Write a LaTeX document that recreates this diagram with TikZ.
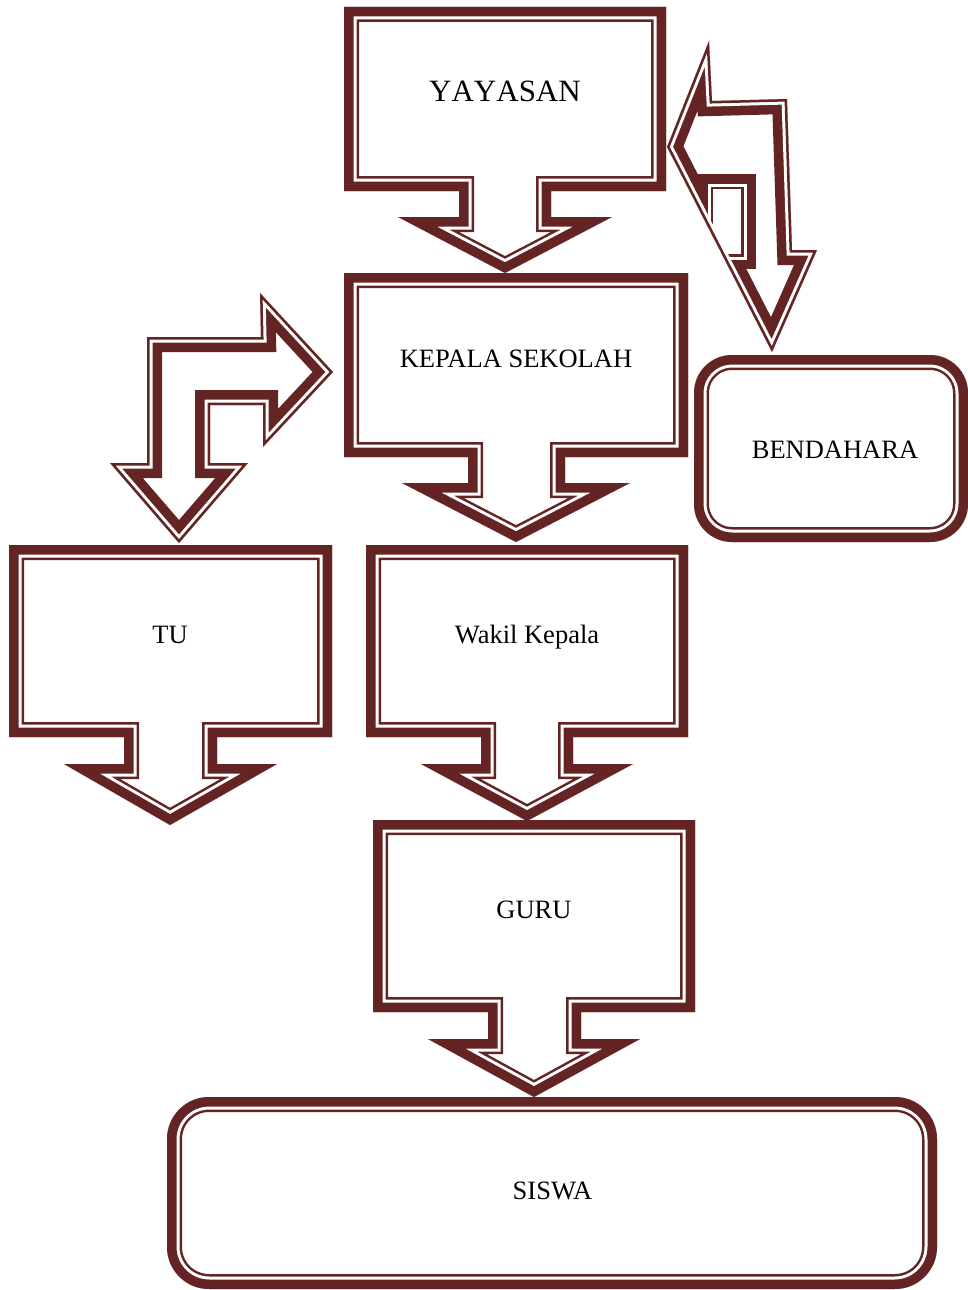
\documentclass[tikz,border=0pt]{standalone}
\usepackage{fontspec}
\setmainfont{Liberation Serif}
\definecolor{maroonline}{RGB}{99,36,35}
\tikzset{
  lbl/.style={anchor=base, text=black, inner sep=0pt, font=\fontsize{26.5}{30}\selectfont},
  biglbl/.style={anchor=base, text=black, inner sep=0pt, font=\fontsize{31}{34}\selectfont\addfontfeature{Kerning=Off}}
}
% thick line outside, thin line inside
\newcommand{\boxshape}[2]{%
  \fill[white,#1] #2;
  \begin{scope}
    \clip[#1] #2;
    \draw[maroonline,line width=30pt,#1] #2;
    \draw[white,line width=25pt,#1] #2;
    \draw[maroonline,line width=19pt,#1] #2;
  \end{scope}}
% thin line outside, thick line inside
\newcommand{\bentshape}[1]{%
  \fill[white] #1;
  \begin{scope}
    \clip #1;
    \draw[maroonline,line width=30pt] #1;
    \draw[white,line width=11pt] #1;
    \draw[maroonline,line width=5pt] #1;
  \end{scope}}
\begin{document}
\begin{tikzpicture}[x=1pt,y=-1pt,line join=miter,miter limit=30]
\useasboundingbox[fill=white] (0,0) rectangle (968,1290);

% right bent arrow (YAYASAN -> BENDAHARA)
\fill[white] (667,147) -- (709,41) -- (712,101) -- (787,99) -- (792,250) -- (817,250) -- (772,352) -- cycle;
\begin{scope}
  \clip (667,147) -- (709,41) -- (712,101) -- (787,99) -- (792,250) -- (817,250) -- (772,352) -- cycle;
  \draw[maroonline,line width=30pt] (667,147) -- (709,41) -- (712,101) -- (787,99) -- (792,250) -- (817,250) -- (772,352) -- cycle;
  \draw[maroonline,line width=30pt] (713,189) rectangle (741,254);
  \draw[white,line width=11pt] (713,189) rectangle (741,254);
  \draw[maroonline,line width=5pt] (713,189) rectangle (741,254);
  \fill[white] (713,189) rectangle (741,254);
  \draw[white,line width=11pt] (667,147) -- (709,41) -- (712,101) -- (787,99) -- (792,250) -- (817,250) -- (772,352) -- cycle;
  \draw[maroonline,line width=5pt] (667,147) -- (709,41) -- (712,101) -- (787,99) -- (792,250) -- (817,250) -- (772,352) -- cycle;
\end{scope}

% left bent arrow (TU <-> KEPALA SEKOLAH)
\bentshape{(333,372) -- (260,293) -- (261,337) -- (147,337) -- (147,463) -- (110,463) -- (179,543) -- (248,463) -- (210,463) -- (210,405) -- (263,405) -- (263,447) -- cycle}

% YAYASAN
\boxshape{}{(344,7) -- (666,7) -- (666,191) -- (551,191) -- (551,217) -- (612,217) -- (505,273) -- (398,217) -- (459,217) -- (459,191) -- (344,191) -- cycle}
\node[biglbl] (yayasan) at (505,101.7) {YAYASAN};

% KEPALA SEKOLAH
\boxshape{}{(344,273) -- (688,273) -- (688,457) -- (565,457) -- (565,483) -- (630,483) -- (516,542) -- (402,483) -- (468,483) -- (468,457) -- (344,457) -- cycle}
\node[lbl] (kepala) at (516,367.3) {KEPALA SEKOLAH};

% BENDAHARA
\boxshape{rounded corners=38pt}{(694,355) rectangle (968,542)}
\node[lbl] (bendahara) at (835,458.3) {BENDAHARA};

% TU
\boxshape{}{(9,545) -- (332,545) -- (332,737) -- (217,737) -- (217,764) -- (277,764) -- (170,825) -- (64,764) -- (124,764) -- (124,737) -- (9,737) -- cycle}
\node[lbl] (tu) at (170,643.3) {TU};

% Wakil Kepala
\boxshape{}{(366,545) -- (688,545) -- (688,737) -- (573,737) -- (573,764) -- (633,764) -- (527,821) -- (421,764) -- (481,764) -- (481,737) -- (366,737) -- cycle}
\node[lbl] (wakil) at (527,643.3) {Wakil Kepala};

% GURU
\boxshape{}{(373,820) -- (695,820) -- (695,1012) -- (581,1012) -- (581,1039) -- (640,1039) -- (534,1097) -- (428,1039) -- (488,1039) -- (488,1012) -- (373,1012) -- cycle}
\node[lbl] (guru) at (534,918.3) {GURU};

% SISWA
\boxshape{rounded corners=42pt}{(167,1097) rectangle (937,1289)}
\node[lbl] (siswa) at (552.5,1199) {SISWA};
\end{tikzpicture}
\end{document}
